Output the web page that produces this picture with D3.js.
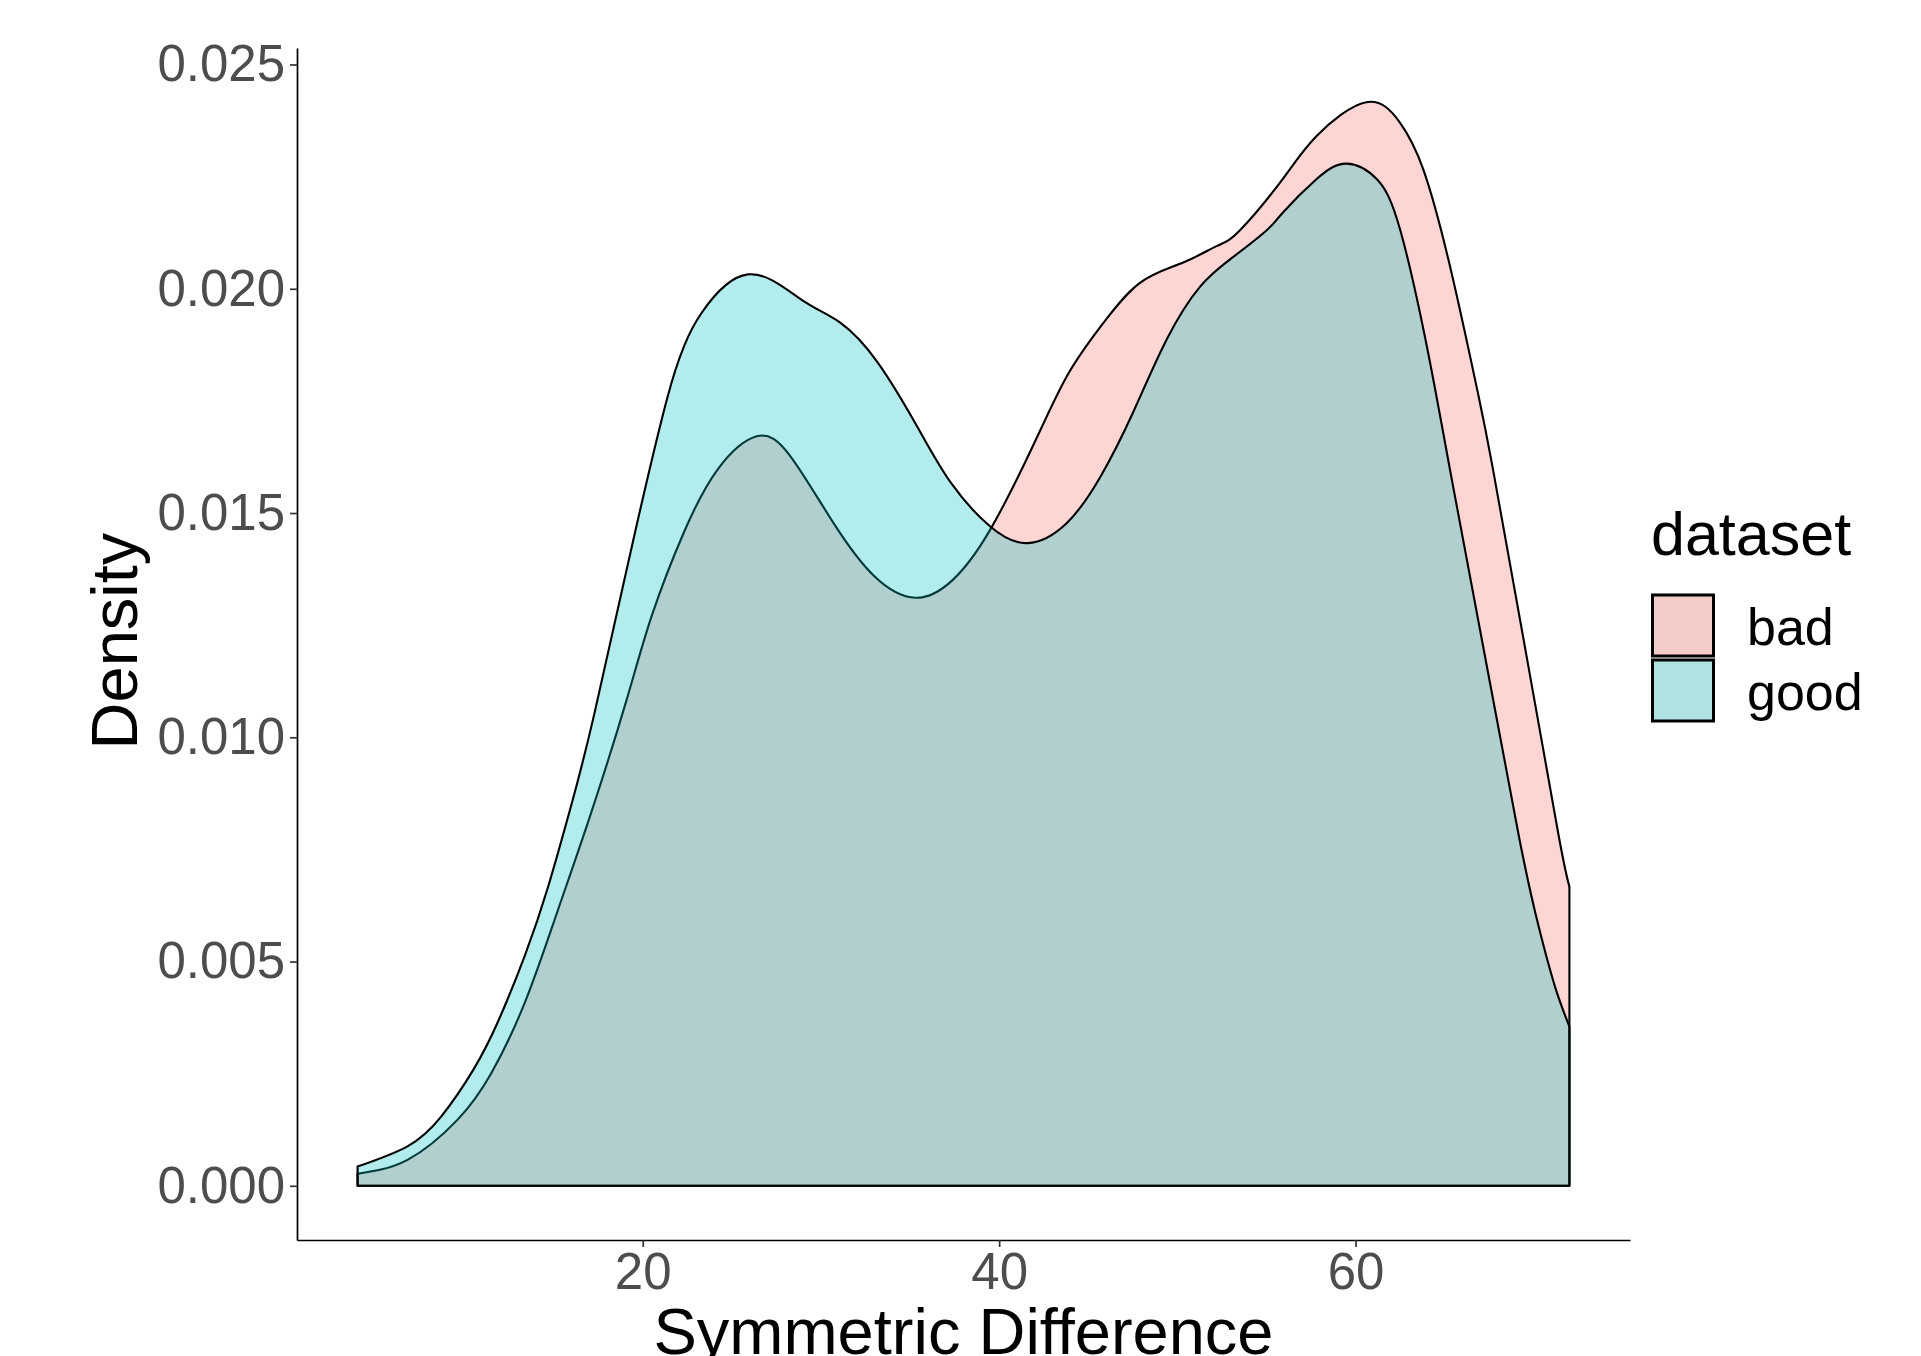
<!DOCTYPE html>
<html>
<head>
<meta charset="utf-8">
<script src="https://cdn.jsdelivr.net/npm/d3@7"></script>
<style>
  body { margin: 0; background: #fff; }
  text { font-family: "Liberation Sans", Arial, Helvetica, sans-serif; }
</style>
</head>
<body>
<svg id="chart"></svg>
<script>
// Series names (legend order)
const categories = ["bad", "good"];

// Density curve: "bad"
const badX = [4, 6.8, 9.6, 11.5, 13.4, 15.2, 17.1, 19.1, 20.5, 22.3, 24.2, 26.4, 28.3, 30.7, 33, 35.3,
  37.4, 39.5, 41.9, 43.8, 45.7, 47.9, 50.3, 52.2, 53.5, 55.9, 57.8, 60.6, 62.5, 63.8,
  65.3, 66.8, 67.7, 69.6, 71.4, 72];
const badY = [0.00027, 0.00058, 0.00147, 0.00251, 0.0041, 0.0061, 0.00831, 0.01084, 0.0127, 0.01456,
  0.01597, 0.01671, 0.01626, 0.01478, 0.01359, 0.01311, 0.01351, 0.01463, 0.0165, 0.01805,
  0.01916, 0.02013, 0.02058, 0.02095, 0.0213, 0.02244, 0.0234, 0.02416, 0.0237, 0.02266,
  0.0205, 0.0178, 0.016, 0.0118, 0.0078, 0.00667];

// Density curve: "good"
const goodX = [4, 6.8, 8.7, 10.5, 11.9, 13.4, 14.7, 16, 17.3, 19.5, 21.4, 22.3, 23.3, 25.9, 28.9,
  31.1, 33.2, 35.4, 37.3, 39.5, 41.6, 43.8, 45.7, 47.5, 49.4, 51.3, 53.1, 55, 55.9, 57.8, 59.5, 61.2,
  62.5, 64, 65.4, 67.3, 69.2, 70.3, 71.2, 72];
const goodY = [0.00043, 0.00088, 0.00155, 0.00259, 0.00368, 0.00515, 0.00668, 0.0085, 0.01055,
  0.01445, 0.0176, 0.0187, 0.01946, 0.02032, 0.01976, 0.01924, 0.01835, 0.01693, 0.01567,
  0.0147, 0.01433, 0.01478, 0.01582, 0.01723, 0.01887, 0.02006, 0.0207, 0.0213, 0.02169, 0.02244,
  0.02279, 0.02244, 0.02132, 0.01872, 0.01575, 0.01173, 0.00772, 0.00574, 0.00443, 0.00355];

// Tick labels
const xTicks = [20, 40, 60];
const yTicks = [0, 0.005, 0.01, 0.015, 0.02, 0.025];

const W = 1921, H = 1356;
const panel = { left: 297, right: 1630, top: 48, bottom: 1240 };

const svg = d3.select("#chart")
  .attr("width", W)
  .attr("height", H);

const series = [
  { name: "bad", pts: badX.map((x, i) => [x, badY[i]]), fill: "#F8766D", key: "#F4CDCA" },
  { name: "good", pts: goodX.map((x, i) => [x, goodY[i]]), fill: "#00BFC4", key: "#B1E2E2" }
];

// ggplot-like 5% expansion of the data range
const allX = badX.concat(goodX);
const xMin = d3.min(allX), xMax = d3.max(allX);
const yMax = d3.max(badY.concat(goodY));
const xPad = (xMax - xMin) * 0.05, yPad = yMax * 0.05;

const x = d3.scaleLinear()
  .domain([xMin - xPad, xMax + xPad])
  .range([panel.left, panel.right]);

const y = d3.scaleLinear()
  .domain([-yPad, yMax + yPad])
  .range([panel.bottom, panel.top]);

// Density areas (bad first, good on top)
const area = d3.area()
  .x(d => x(d[0]))
  .y0(y(0))
  .y1(d => y(d[1]))
  .curve(d3.curveNatural);

svg.selectAll(".density")
  .data(series)
  .enter().append("path")
  .attr("class", "density")
  .attr("d", d => area(d.pts) + "Z")
  .attr("fill", d => d.fill)
  .attr("fill-opacity", 0.3)
  .attr("stroke", "#000")
  .attr("stroke-width", 2.1)
  .attr("stroke-linejoin", "round");

// Axes
const xAxis = svg.append("g")
  .attr("transform", "translate(0," + panel.bottom + ")")
  .call(d3.axisBottom(x).tickValues(xTicks).tickSize(7).tickSizeOuter(0).tickPadding(6));

const yAxis = svg.append("g")
  .attr("transform", "translate(" + panel.left + ",0)")
  .call(d3.axisLeft(y).tickValues(yTicks).tickFormat(d3.format(".3f"))
    .tickSize(7).tickSizeOuter(0).tickPadding(5));

[xAxis, yAxis].forEach(g => {
  g.select(".domain").attr("stroke", "#000").attr("stroke-width", 1.7);
  g.selectAll(".tick line").attr("stroke", "#333").attr("stroke-width", 1.7);
  g.selectAll(".tick text")
    .attr("fill", "#4D4D4D")
    .style("font-size", "51px")
    .style("font-family", "'Liberation Sans', Arial, Helvetica, sans-serif");
});

// Axis titles
svg.append("text")
  .attr("x", (panel.left + panel.right) / 2)
  .attr("y", 1354)
  .attr("text-anchor", "middle")
  .style("font-size", "65px")
  .text("Symmetric Difference");

svg.append("text")
  .attr("transform", "translate(137," + 641 + ") rotate(-90)")
  .attr("text-anchor", "middle")
  .style("font-size", "65px")
  .text("Density");

// Legend
const legend = svg.append("g").attr("transform", "translate(1651,0)");

legend.append("text")
  .attr("x", 0)
  .attr("y", 555)
  .style("font-size", "61px")
  .text("dataset");

const keys = legend.selectAll(".key")
  .data(series)
  .enter().append("g")
  .attr("class", "key")
  .attr("transform", (d, i) => "translate(0," + (595 + i * 65) + ")");

keys.append("rect")
  .attr("x", 1.5)
  .attr("y", 0)
  .attr("width", 61)
  .attr("height", 61)
  .attr("fill", d => d.key)
  .attr("stroke", "#000")
  .attr("stroke-width", 3);

keys.append("text")
  .attr("x", 96)
  .attr("y", 31 + 19)
  .style("font-size", "52px")
  .text(d => d.name);
</script>
</body>
</html>
